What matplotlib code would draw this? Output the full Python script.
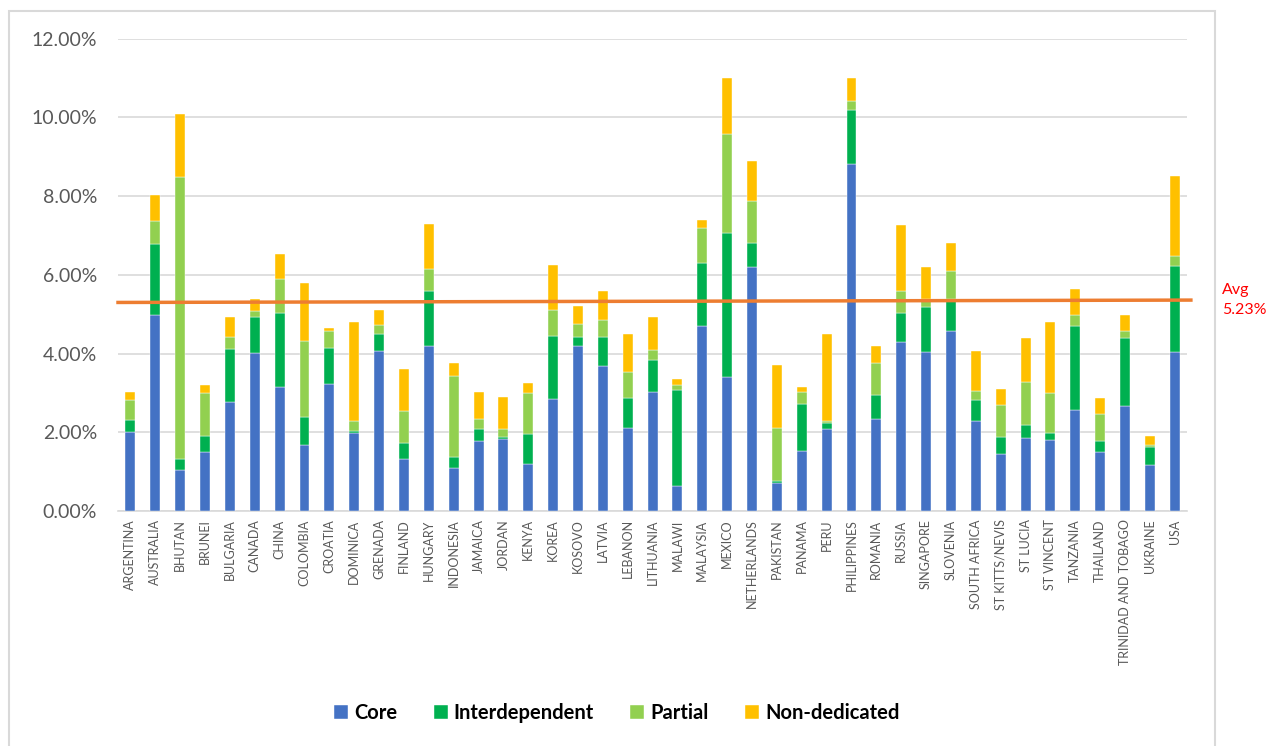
import matplotlib
matplotlib.use("Agg")
import matplotlib.pyplot as plt
from matplotlib.patches import Rectangle
from matplotlib.ticker import FuncFormatter

countries = ["ARGENTINA", "AUSTRALIA", "BHUTAN", "BRUNEI", "BULGARIA", "CANADA", "CHINA",
             "COLOMBIA", "CROATIA", "DOMINICA", "GRENADA", "FINLAND", "HUNGARY", "INDONESIA",
             "JAMAICA", "JORDAN", "KENYA", "KOREA", "KOSOVO", "LATVIA", "LEBANON", "LITHUANIA",
             "MALAWI", "MALAYSIA", "MEXICO", "NETHERLANDS", "PAKISTAN", "PANAMA", "PERU",
             "PHILIPPINES", "ROMANIA", "RUSSIA", "SINGAPORE", "SLOVENIA", "SOUTH AFRICA",
             "ST KITTS/NEVIS", "ST LUCIA", "ST VINCENT", "TANZANIA", "THAILAND",
             "TRINIDAD AND TOBAGO", "UKRAINE", "USA"]

# percent values, one per country
core = [2.00, 4.97, 1.03, 1.51, 2.78, 4.01, 3.15, 1.69, 3.23, 1.97, 4.07, 1.33, 4.19, 1.10,
        1.78, 1.82, 1.20, 2.84, 4.19, 3.69, 2.12, 3.03, 0.64, 4.71, 3.41, 6.19, 0.70, 1.52,
        2.08, 8.81, 2.35, 4.29, 4.05, 4.58, 2.30, 1.46, 1.86, 1.81, 2.57, 1.51, 2.68, 1.17, 4.05]
interdependent = [0.31, 1.82, 0.28, 0.40, 1.34, 0.91, 1.88, 0.71, 0.91, 0.06, 0.43, 0.41, 1.39,
                  0.26, 0.31, 0.07, 0.75, 1.61, 0.24, 0.72, 0.74, 0.81, 2.44, 1.60, 3.66, 0.62,
                  0.05, 1.20, 0.15, 1.39, 0.59, 0.74, 1.14, 0.81, 0.52, 0.42, 0.33, 0.16, 2.14,
                  0.28, 1.72, 0.46, 2.17]
partial = [0.50, 0.57, 7.18, 1.10, 0.30, 0.15, 0.86, 1.91, 0.44, 0.27, 0.23, 0.80, 0.57, 2.06,
           0.25, 0.20, 1.04, 0.66, 0.33, 0.45, 0.67, 0.25, 0.11, 0.89, 2.52, 1.08, 1.36, 0.31,
           0.07, 0.22, 0.83, 0.57, 0.21, 0.71, 0.23, 0.81, 1.08, 1.02, 0.27, 0.68, 0.18, 0.06, 0.26]
non_dedicated = [0.21, 0.66, 1.59, 0.19, 0.50, 0.32, 0.64, 1.48, 0.06, 2.51, 0.38, 1.06, 1.14,
                 0.33, 0.68, 0.81, 0.26, 1.14, 0.44, 0.72, 0.97, 0.83, 0.17, 0.20, 1.42, 1.01,
                 1.60, 0.12, 2.19, 0.59, 0.42, 1.67, 0.81, 0.71, 1.02, 0.40, 1.12, 1.81, 0.65,
                 0.39, 0.40, 0.21, 2.03]

avg_line = [5.30, 5.36]  # drawn line, left end / right end
avg_label = "Avg\n5.23%"

series = [("Core", core, "#4472C4"),
          ("Interdependent", interdependent, "#00B050"),
          ("Partial", partial, "#92D050"),
          ("Non-dedicated", non_dedicated, "#FFC000")]

plt.rcParams["font.family"] = ["Lato", "DejaVu Sans"]

fig = plt.figure(figsize=(12.69, 7.46), dpi=100)
ax = fig.add_axes([0.093, 0.315, 0.8425, 0.633])

x = list(range(len(countries)))
bottom = [0.0] * len(countries)
for name, vals, color in series:
    ax.bar(x, vals, width=0.4, bottom=bottom, color=color, label=name,
           edgecolor="white", linewidth=0.3, zorder=3)
    bottom = [b + v for b, v in zip(bottom, vals)]

ax.plot([-0.5, len(countries) - 0.35], avg_line, color="#ED7D31", linewidth=2.5,
        zorder=4, clip_on=False)

ax.set_xlim(-0.5, len(countries) - 0.5)
ax.set_ylim(0, 12)
ax.set_yticks([0, 2, 4, 6, 8, 10, 12])
ax.yaxis.set_major_formatter(FuncFormatter(lambda v, p: f"{v:.2f}%"))
ax.set_xticks(x)
ax.set_xticklabels(countries, rotation=90, fontsize=9, color="#595959")
ax.tick_params(axis="y", labelsize=14, colors="#595959", length=0, pad=15)
ax.tick_params(axis="x", length=0, pad=6)
ax.grid(axis="y", color="#D9D9D9", linewidth=1.2, zorder=0)
for s in ["top", "right", "left"]:
    ax.spines[s].set_visible(False)
ax.spines["bottom"].set_color("#D9D9D9")
ax.spines["bottom"].set_linewidth(1.2)

fig.text(0.963, 0.598, avg_label, color="#FF0000", fontsize=11.5, va="center", ha="left",
         linespacing=1.6)

leg = fig.legend(loc="center", bbox_to_anchor=(0.486, 0.044), ncol=4, frameon=False,
                 prop={"weight": "bold", "size": 14.5}, handlelength=0.7, handleheight=0.7,
                 handletextpad=0.3, columnspacing=1.8)

# chart area frame
fig.patches.append(Rectangle((9 / 1269, -0.01), (1215 - 9) / 1269, 1 - 11 / 746 + 0.01,
                             transform=fig.transFigure, fill=False, edgecolor="#D9D9D9",
                             linewidth=1.5))

fig.savefig("out.png", dpi=100)
